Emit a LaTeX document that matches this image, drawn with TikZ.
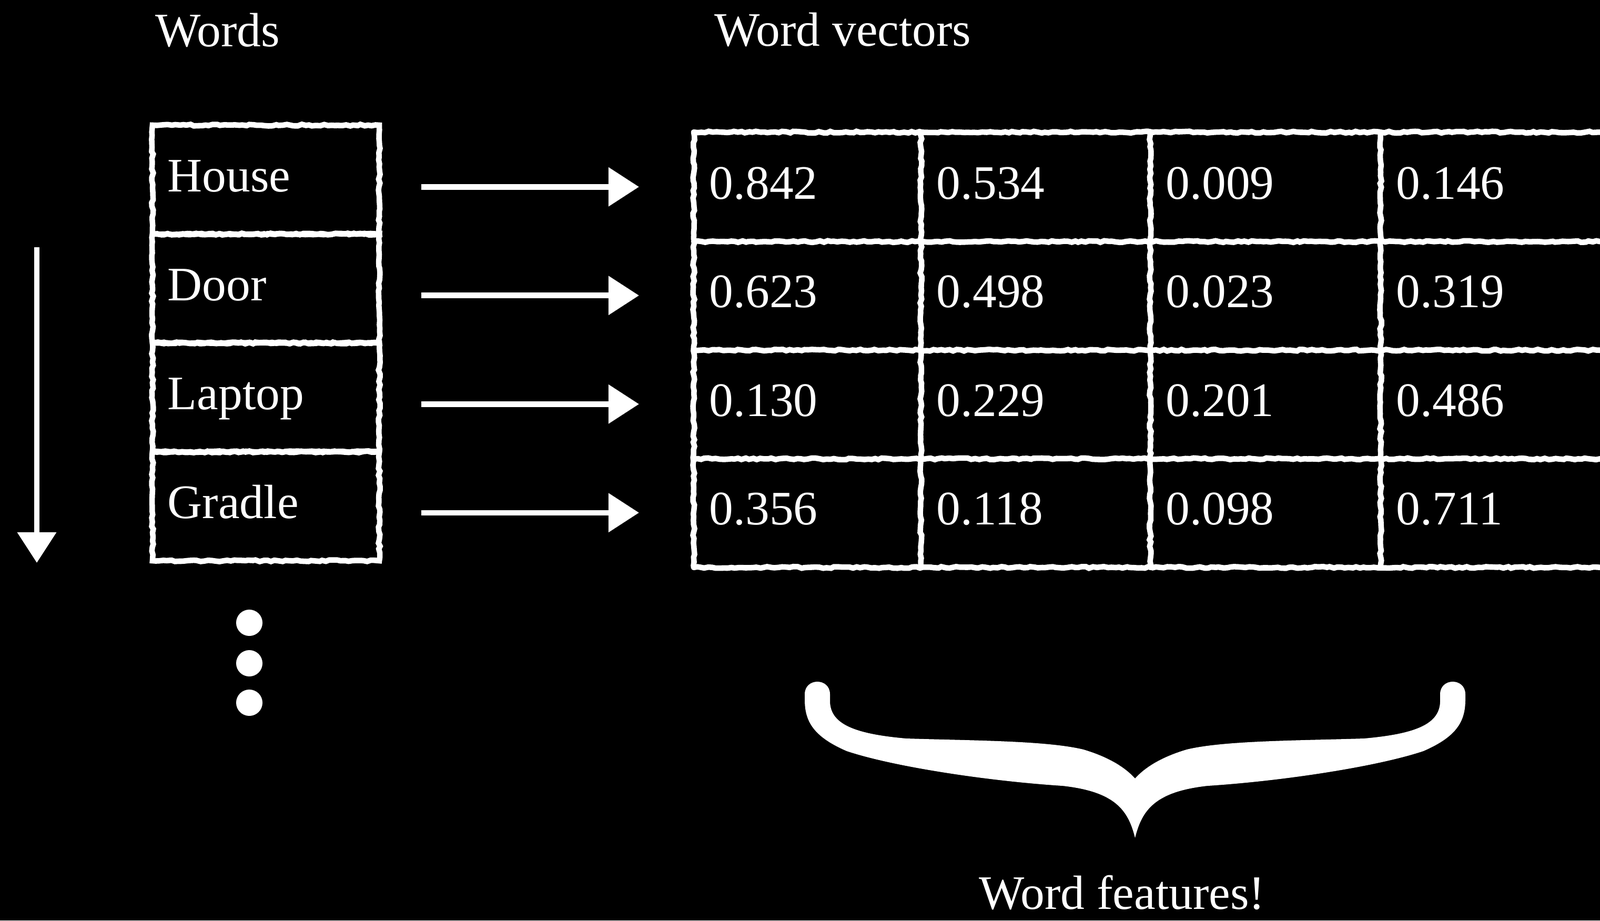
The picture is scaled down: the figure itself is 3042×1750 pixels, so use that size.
\documentclass[tikz,border=0pt]{standalone}
\usepackage{fontspec}
\setmainfont{Liberation Serif}
\usetikzlibrary{arrows.meta,decorations.pathmorphing}
\begin{document}
\begin{tikzpicture}[x=0.01cm,y=-0.01cm,
 chalkline/.style={draw=white, line width=3pt, line cap=round, decorate, decoration={random steps, segment length=2pt, amplitude=0.45pt}},
 bigfont/.style={font=\fontsize{26}{30}\selectfont},
 wcell/.style={chalkline, rectangle, bigfont, text=white, minimum width=4.31cm, minimum height=2.07cm, inner xsep=0.29cm, inner ysep=0pt, text width=3.73cm, align=left, text height=19.5pt, text depth=6.5pt},
 vcell/.style={rectangle, bigfont, text=white, anchor=west, minimum width=4.36cm, minimum height=2.065cm, inner xsep=0.29cm, inner ysep=0pt, text width=3.78cm, align=left, text height=19.5pt, text depth=6.5pt},
 title/.style={bigfont, text=white, inner sep=0pt, anchor=base west},
 arr/.style={draw=white, line width=3pt, -{Triangle[length=0.58cm, width=0.72cm]}},
 dotnode/.style={circle, fill=white, minimum size=0.5cm, inner sep=0pt}
]
\useasboundingbox (0,0) rectangle (3042,1750);
\fill[black] (0,0) rectangle (3042,1750);

% titles
\node[title] (tw) at (295,88) {Words};
\node[title] (tv) at (1358,87) {Word vectors};
\node[title] (tf) at (1861,1728) {Word features!};

% word cells
\node[wcell] (h1) at (505.5,341.5) {House};
\node[wcell] (h2) at (505.5,548.5) {Door};
\node[wcell] (h3) at (505.5,755.5) {Laptop};
\node[wcell] (h4) at (505.5,962.5) {Gradle};

% table cells
\node[vcell] (v11) at (1319,355.25) {0.842};
\node[vcell] (v12) at (1751,355.25) {0.534};
\node[vcell] (v13) at (2187,355.25) {0.009};
\node[vcell] (v14) at (2625,355.25) {0.146};
\node[vcell] (v21) at (1319,561.75) {0.623};
\node[vcell] (v22) at (1751,561.75) {0.498};
\node[vcell] (v23) at (2187,561.75) {0.023};
\node[vcell] (v24) at (2625,561.75) {0.319};
\node[vcell] (v31) at (1319,768.25) {0.130};
\node[vcell] (v32) at (1751,768.25) {0.229};
\node[vcell] (v33) at (2187,768.25) {0.201};
\node[vcell] (v34) at (2625,768.25) {0.486};
\node[vcell] (v41) at (1319,974.75) {0.356};
\node[vcell] (v42) at (1751,974.75) {0.118};
\node[vcell] (v43) at (2187,974.75) {0.098};
\node[vcell] (v44) at (2625,974.75) {0.711};

\coordinate (edge) at (3042,0);
% table lines
\draw[chalkline] (v11.north west) -- (v11.north west -| edge);
\draw[chalkline] (v11.south west) -- (v11.south west -| edge);
\draw[chalkline] (v21.south west) -- (v21.south west -| edge);
\draw[chalkline] (v31.south west) -- (v31.south west -| edge);
\draw[chalkline] (v41.south west) -- (v41.south west -| edge);
\draw[chalkline] (v11.north west) -- (v41.south west);
\draw[chalkline] (v12.north west) -- (v42.south west);
\draw[chalkline] (v13.north west) -- (v43.south west);
\draw[chalkline] (v14.north west) -- (v44.south west);

% arrows
\draw[arr, shorten <=0.75cm, shorten >=1.04cm] (v11.west -| h1.east) -- (v11.west);
\draw[arr, shorten <=0.75cm, shorten >=1.04cm] (v21.west -| h2.east) -- (v21.west);
\draw[arr, shorten <=0.75cm, shorten >=1.04cm] (v31.west -| h3.east) -- (v31.west);
\draw[arr, shorten <=0.75cm, shorten >=1.04cm] (v41.west -| h4.east) -- (v41.west);

% left arrow
\coordinate (la1) at (70,470);
\coordinate (la2) at (70,1070);
\draw[arr] (la1) -- (la2);

% dots
\node[dotnode] (d1) at (474,1184) {};
\node[dotnode] (d2) at (474,1261) {};
\node[dotnode] (d3) at (474,1336) {};

% brace
\fill[white] (2158,1593)
  .. controls (2145,1540) and (2120,1505) .. (2020,1494)
  .. controls (1880,1485) and (1700,1458) .. (1610,1428)
  .. controls (1545,1400) and (1530,1370) .. (1530,1330)
  -- (1530,1320)
  .. controls (1530,1288) and (1578,1288) .. (1578,1320)
  -- (1578,1335)
  .. controls (1580,1375) and (1620,1395) .. (1723,1404)
  .. controls (1850,1408) and (1990,1408) .. (2060,1425)
  .. controls (2110,1440) and (2140,1460) .. (2158,1480)
  .. controls (2176,1460) and (2206,1440) .. (2256,1425)
  .. controls (2326,1408) and (2466,1408) .. (2593,1404)
  .. controls (2696,1395) and (2736,1375) .. (2738,1335)
  -- (2738,1320)
  .. controls (2738,1288) and (2786,1288) .. (2786,1320)
  -- (2786,1330)
  .. controls (2786,1370) and (2771,1400) .. (2706,1428)
  .. controls (2616,1458) and (2436,1485) .. (2296,1494)
  .. controls (2196,1505) and (2171,1540) .. (2158,1593)
  -- cycle;
\end{tikzpicture}
\end{document}
